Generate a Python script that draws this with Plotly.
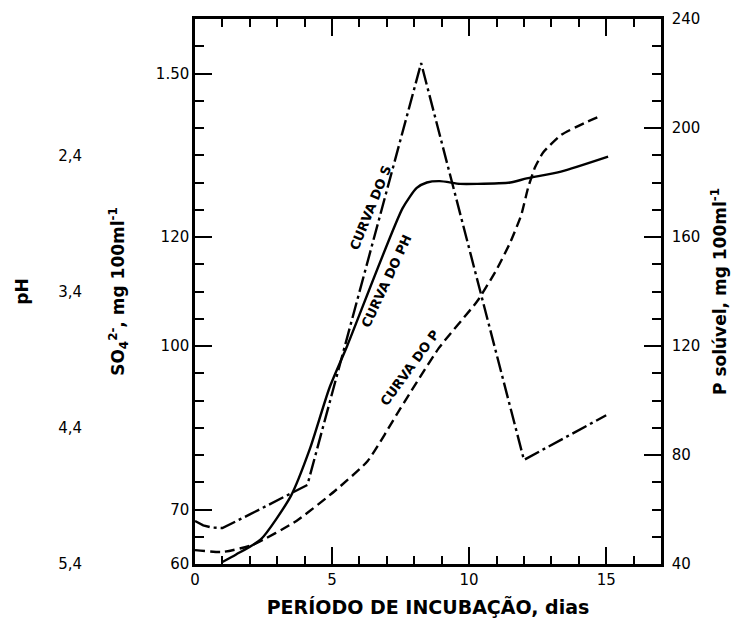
import plotly.graph_objects as go

# ---- data ----
# Curva do S (sulfate, SO4 2-, mg 100 ml-1) - dash-dot
s_days = [0.0, 0.3, 0.6, 1.0, 2.0, 3.0, 4.1, 8.25, 12.0, 15.0]
s_so4 = [67.9, 67.1, 66.7, 66.6, 69.1, 71.7, 74.5, 151.9, 79.1, 87.3]

# Curva do pH - solid
ph_days = [1.0, 1.5, 2.4, 3.5, 4.2, 4.9, 5.55, 7.57, 8.09, 8.46, 8.93, 9.67, 10.3, 11.5, 12.1, 13.35, 15.07]
ph_vals = [5.385, 5.33, 5.22, 4.90, 4.55, 4.11, 3.80, 2.79, 2.64, 2.60, 2.59, 2.61, 2.61, 2.60, 2.57, 2.52, 2.41]

# Curva do P (P solúvel, mg 100 ml-1) - dashed
p_days = [0.0, 1.0, 2.1, 3.7, 5.1, 6.3, 7.5, 8.9, 10.3, 11.0, 11.5, 11.9, 12.15, 12.4, 12.7, 13.35, 14.2, 14.8]
p_vals = [45.1, 44.4, 47.0, 55.8, 66.8, 77.8, 97.2, 119.3, 136.5, 148.0, 158.0, 168.0, 178.0, 185.5, 191.0, 197.4, 201.8, 204.4]

# axes
x_ticks = [0, 5, 10, 15]
so4_ticks = [60, 70, 100, 120, 150]
so4_ticktext = ["60", "70", "100", "120", "1.50"]
p_ticks = [40, 80, 120, 160, 200, 240]
ph_ticks = [2.4, 3.4, 4.4, 5.4]
ph_ticktext = ["2,4", "3,4", "4,4", "5,4"]

FONT = "DejaVu Sans"
W, H = 740, 620
ML, MR, MT, MB = 88, 87, 11, 64
plot_left = 187
xdom0 = (plot_left - ML) / (W - ML - MR)

fig = go.Figure()
fig.add_trace(go.Scatter(x=s_days, y=s_so4, mode="lines", yaxis="y",
                         line=dict(color="black", width=2.4, dash="16px,4px,3px,4px"),
                         hoverinfo="skip", showlegend=False))
fig.add_trace(go.Scatter(x=ph_days, y=ph_vals, mode="lines", yaxis="y3",
                         line=dict(color="black", width=2.4, shape="spline", smoothing=0.6),
                         hoverinfo="skip", showlegend=False))
fig.add_trace(go.Scatter(x=p_days, y=p_vals, mode="lines", yaxis="y2",
                         line=dict(color="black", width=2.4, dash="10px,5px", shape="spline", smoothing=0.5),
                         hoverinfo="skip", showlegend=False))

tickfont = dict(family=FONT, size=15, color="black")
titlefont = dict(family=FONT, size=17, color="black", weight="bold")

fig.update_layout(
    width=W, height=H,
    margin=dict(l=ML, r=MR, t=MT, b=MB, autoexpand=False),
    paper_bgcolor="white", plot_bgcolor="white",
    showlegend=False,
    xaxis=dict(
        domain=[xdom0, 1], range=[0, 17],
        tickvals=x_ticks, ticks="inside", ticklen=17, tickwidth=2, tickcolor="black",
        minor=dict(dtick=1, ticks="inside", ticklen=8, tickwidth=2, tickcolor="black"),
        showline=True, linewidth=2.5, linecolor="black", mirror="ticks",
        showgrid=False, zeroline=False, tickfont=tickfont,
        title=dict(text="PERÍODO DE INCUBAÇÃO, dias",
                   font=dict(family=FONT, size=19, color="black", weight="bold"), standoff=13),
    ),
    yaxis=dict(
        range=[60, 160], anchor="x", side="left",
        tickvals=so4_ticks, ticktext=so4_ticktext,
        ticks="inside", ticklen=17, tickwidth=2, tickcolor="black",
        minor=dict(dtick=5, ticks="inside", ticklen=9, tickwidth=2, tickcolor="black"),
        showline=True, linewidth=2.5, linecolor="black",
        showgrid=False, zeroline=False, tickfont=tickfont,
        title=dict(text="SO<sub>4</sub><sup>2-</sup>, mg 100ml<sup>-1</sup>", font=titlefont, standoff=27),
    ),
    yaxis2=dict(
        range=[40, 240], anchor="x", overlaying="y", side="right",
        tickvals=p_ticks, ticks="inside", ticklen=17, tickwidth=2, tickcolor="black",
        minor=dict(dtick=10, ticks="inside", ticklen=9, tickwidth=2, tickcolor="black"),
        showline=True, linewidth=2.5, linecolor="black",
        showgrid=False, zeroline=False, tickfont=tickfont, ticklabelstandoff=5,
        title=dict(text="P solúvel, mg 100ml<sup>-1</sup>", font=titlefont, standoff=15),
    ),
    yaxis3=dict(
        range=[5.4, 1.4], anchor="free", position=0, overlaying="y", side="left",
        tickvals=ph_ticks, ticktext=ph_ticktext, ticks="", ticklabelstandoff=14,
        showline=False, showgrid=False, zeroline=False, tickfont=tickfont,
        title=dict(text="pH", font=titlefont, standoff=24),
    ),
)

annofont = dict(family=FONT, size=13, color="black", weight="bold")
fig.add_annotation(x=6.4, y=171, xref="x", yref="y2", text="CURVA DO S", showarrow=False,
                   textangle=-68, font=annofont)
fig.add_annotation(x=7.0, y=144, xref="x", yref="y2", text="CURVA DO PH", showarrow=False,
                   textangle=-65, font=annofont)
fig.add_annotation(x=7.85, y=112, xref="x", yref="y2", text="CURVA DO P", showarrow=False,
                   textangle=-54, font=annofont)

fig.write_html("out.html")
